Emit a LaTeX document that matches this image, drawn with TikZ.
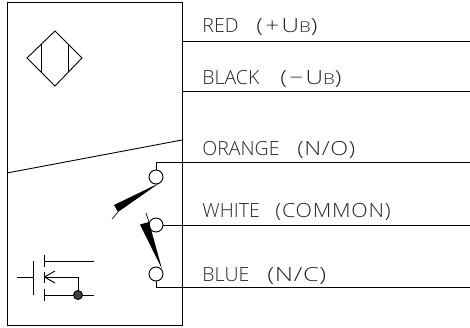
\documentclass[tikz,border=0pt]{standalone}
\usepackage{fontspec}
\newfontfamily\lblfont{Open Sans Light}
\newcommand{\sparen}[3]{{\addfontfeature{FakeStretch=#1,LetterSpace=#2}#3}}
\newcommand{\subB}{{\fontsize{15}{15}\selectfont B}}
\begin{document}
\begin{tikzpicture}[x=1pt,y=-1pt,line width=0.9pt,
  lbl/.style={anchor=base west,inner sep=0pt,font=\lblfont\fontsize{19.5}{20}\selectfont,text=black!85},
  contact/.style={circle,draw,fill=white,minimum size=14pt,inner sep=0pt,line width=0.9pt},
  wire/.style={line width=0.9pt},
  thin wire/.style={line width=0.7pt}]
\useasboundingbox (0,0) rectangle (470,328);
% housing
\coordinate (tl) at (7,3);
\coordinate (br) at (182,325);
\draw[line width=1pt] (tl) rectangle (br);
\coordinate (sl) at (7,173);
\coordinate (sr) at (182,140);
\draw[wire] (sl) -- (sr);
% sensor symbol
\coordinate (dw) at (27,58);
\coordinate (dn) at (55,31);
\coordinate (de) at (82,58);
\coordinate (ds) at (55,86);
\draw[wire] (dw) -- (dn) -- (de) -- (ds) -- cycle;
\draw[wire] (41,44) -- (41,72);
\draw[wire] (68,44) -- (68,72);
% power wires
\coordinate (r0) at (182,41);
\coordinate (r1) at (470,41);
\coordinate (k0) at (182,91);
\coordinate (k1) at (470,91);
\draw[wire] (r0) -- (r1);
\draw[wire] (k0) -- (k1);
% contacts
\node[contact] (no) at (156,177) {};
\node[contact] (com) at (156,225) {};
\node[contact] (nc) at (156,274) {};
\coordinate (o1) at (470,162);
\coordinate (w1) at (470,225);
\coordinate (b1) at (470,287);
\draw[wire] (no.north) |- (o1);
\draw[wire] (com.east) -- (w1);
\draw[wire] (nc.south) |- (b1);
% blades
\fill (159.5,183) -- (114,205) -- (118,212) -- cycle;
\draw[thin wire] (118,212) -- (112,219);
\fill (162,269) -- (140,224.5) -- (149,222) -- cycle;
\draw[thin wire] (149,222) -- (146,213);
% transistor
\draw[wire] (17,277) -- (33.5,277);
\draw[wire] (33.5,261) -- (33.5,295);
\draw[wire] (44.5,255) -- (44.5,267);
\draw[wire] (44.5,272) -- (44.5,283);
\draw[wire] (44.5,289) -- (44.5,301);
\draw[wire] (44.5,261) -- (94,261);
\draw[wire] (44.5,295) -- (94,295);
\draw[wire] (44.5,277) -- (78,277) -- (78,295);
\draw[wire] (55,271) -- (44.5,277) -- (55,283);
\node[circle,fill=black!75,draw=black,minimum size=9pt,inner sep=0pt] (dot) at (78,295) {};
% labels
\node[lbl] (t1) at (202,33) {\makebox[54pt][l]{RED}\sparen{1.25}{12}{(+U\subB)}};
\node[lbl] (t2) at (202,85) {\makebox[78pt][l]{BLACK}\sparen{1.25}{12}{(−U\subB)}};
\node[lbl] (t3) at (202,156) {\makebox[95pt][l]{ORANGE}\sparen{1.2}{3}{(N/O)}};
\node[lbl] (t4) at (202,218) {\makebox[73pt][l]{WHITE}\sparen{1.1}{4}{(COMMON)}};
\node[lbl] (t5) at (202,281) {\makebox[65pt][l]{BLUE}\sparen{1.3}{3}{(N/C)}};
\end{tikzpicture}
\end{document}
